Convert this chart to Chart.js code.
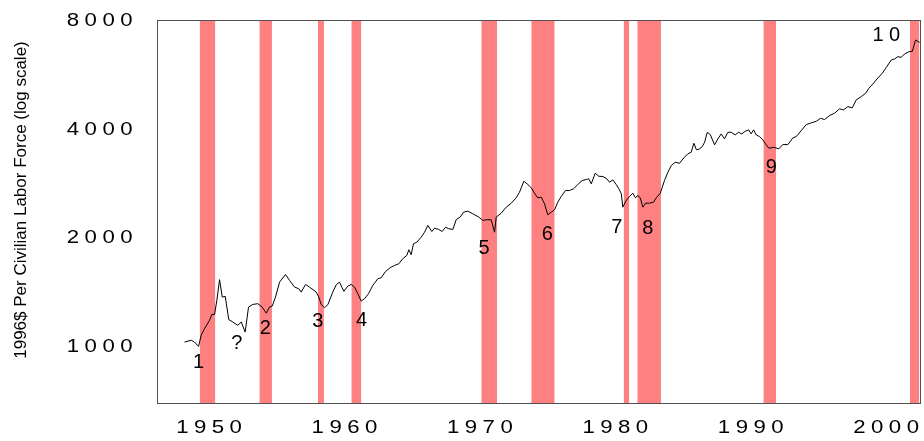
<!DOCTYPE html>
<html><head><meta charset="utf-8">
<script src="https://cdn.jsdelivr.net/npm/chart.js@4/dist/chart.umd.min.js"></script>
<style>html,body{margin:0;padding:0;background:#fff;}canvas{display:block;}</style>
</head><body>
<canvas id="c" width="924" height="441"></canvas>
<script>
const years = [
1948.13,1948.63,1948.87,1949.17,1949.36,1949.61,1949.98,1950.15,1950.35,1950.52,
1950.72,1950.92,1951.14,1951.40,1951.70,1952.07,1952.32,1952.61,1952.86,1953.18,
1953.55,1953.87,1954.17,1954.41,1954.61,1954.85,1955.15,1955.59,1955.89,1956.26,
1956.57,1956.75,1957.07,1957.36,1957.86,1958.05,1958.23,1958.47,1958.72,1959.08,
1959.34,1959.58,1959.75,1959.90,1960.19,1960.44,1960.69,1960.93,1961.18,1961.43,
1961.72,1962.04,1962.41,1962.66,1962.98,1963.32,1963.64,1963.96,1964.25,1964.55,
1964.70,1964.87,1965.04,1965.29,1965.61,1965.86,1966.10,1966.40,1966.60,1966.91,
1967.16,1967.41,1967.65,1967.95,1968.20,1968.49,1968.74,1969.05,1969.42,1969.87,
1970.16,1970.41,1970.78,1971.03,1971.15,1971.52,1971.89,1972.26,1972.63,1972.87,
1973.19,1973.49,1973.74,1973.98,1974.22,1974.48,1974.72,1974.96,1975.21,1975.46,
1975.70,1975.95,1976.27,1976.57,1976.86,1977.18,1977.50,1977.80,1977.99,1978.17,
1978.46,1978.73,1979.03,1979.32,1979.52,1979.76,1980.01,1980.21,1980.39,1980.50,
1980.75,1981.00,1981.24,1981.44,1981.61,1981.79,1981.98,1982.18,1982.47,1982.77,
1982.97,1983.27,1983.58,1983.83,1984.08,1984.37,1984.69,1985.01,1985.30,1985.55,
1985.75,1985.94,1986.17,1986.37,1986.54,1986.74,1986.96,1987.28,1987.52,1987.77,
1988.01,1988.26,1988.51,1988.80,1989.05,1989.29,1989.54,1989.79,1989.98,1990.16,
1990.35,1990.60,1990.84,1991.04,1991.29,1991.66,1992.02,1992.32,1992.69,1993.06,
1993.31,1993.68,1994.05,1994.42,1994.79,1995.10,1995.40,1995.77,1996.13,1996.50,
1996.80,1997.12,1997.44,1997.74,1998.11,1998.43,1998.67,1998.97,1999.34,1999.66,
1999.96,2000.33,2000.57,2000.81,2001.06,2001.31,2001.63,2001.88,2002.12,2002.29,
2002.42];
const values = [
1032,1044,1032,1004,1077,1124,1185,1231,1231,1346,
1536,1375,1381,1191,1173,1148,1173,1100,1290,1312,
1318,1290,1241,1290,1298,1375,1512,1588,1529,1465,
1450,1419,1490,1465,1419,1375,1310,1285,1310,1419,
1488,1512,1465,1426,1474,1490,1465,1405,1340,1361,
1405,1481,1546,1555,1619,1658,1682,1700,1755,1793,
1859,1801,1931,1951,2014,2079,2170,2088,2133,2115,
2088,2146,2125,2115,2254,2288,2362,2377,2338,2288,
2240,2250,2250,2079,2288,2347,2438,2501,2588,2682,
2876,2817,2758,2665,2588,2598,2491,2323,2362,2398,
2517,2610,2711,2711,2741,2817,2889,2908,2921,2829,
3027,2969,2964,2921,2858,2902,2817,2741,2655,2438,
2544,2610,2665,2588,2626,2588,2438,2501,2501,2517,
2588,2665,2889,3046,3179,3246,3225,3338,3424,3460,
3664,3513,3535,3587,3687,3929,3872,3627,3768,3889,
3768,3929,3929,3865,3929,3889,3954,3990,3889,3990,
3865,3823,3744,3650,3549,3571,3535,3633,3633,3792,
3823,3972,4127,4172,4215,4296,4261,4371,4435,4561,
4532,4628,4590,4830,4932,5037,5200,5347,5555,5721,
5943,6229,6269,6362,6333,6472,6567,6580,7075,7012,
6967];
const recStart = [1949.25,1953.66,1957.99,1960.45,1970.05,1973.74,1980.56,1981.57,1990.88,2001.71];
const recEnd   = [1950.41,1954.59,1958.43,1961.19,1971.21,1975.47,1980.98,1983.32,1991.82,2002.40];
const xTicks = [1950,1960,1970,1980,1990,2000];
const yTicks = [1000,2000,4000,8000];
const noteText  = ['1','?','2','3','4','5','6','7','8','9','10'];
const noteYear  = [1949.17,1951.99,1954.09,1957.98,1961.20,1970.25,1974.92,1980.06,1982.35,1991.46,1999.96];
const noteValue = [909,1022,1124,1180,1185,1871,2049,2146,2133,3144,7271];
const yTitle = '1996$ Per Civilian Labor Force (log scale)';
const xMin = 1946.1, xMax = 2002.5, yMin = 700, yMax = 8000;

const FONT = "'Liberation Sans', Arial, Helvetica, sans-serif";
const FRAME = '#505050';
const TICK_STRETCH = 1.2;   // tick digits in the reference are drawn a little wide
const lineData = years.map((x, i) => ({x: x, y: values[i]}));
const recData = [];
recStart.forEach((s, i) => {
  recData.push({x: s, y: yMax}, {x: recEnd[i], y: yMax}, {x: recEnd[i], y: null});
});

const textPlugin = {
  id: 'textStyle',
  beforeDraw(chart) {
    const ctx = chart.ctx;
    const proto = Object.getPrototypeOf(ctx).fillText;
    ctx.fillText = function (t, x, y) {
      this.save();
      this.translate(x, y);
      this.scale(TICK_STRETCH, 1);
      proto.call(this, t, 0, 0);
      this.restore();
    };
    ctx.letterSpacing = '4.55px';
  },
  afterDraw(chart) {
    const ctx = chart.ctx, xs = chart.scales.x, ys = chart.scales.y;
    delete ctx.fillText;
    ctx.letterSpacing = '0px';
    ctx.save();
    ctx.fillStyle = '#000';
    ctx.font = '20px ' + FONT;
    ctx.textBaseline = 'middle';
    ctx.textAlign = 'left';
    const sp = 5.5;
    noteText.forEach((t, i) => {
      ctx.letterSpacing = '0px';
      const w = ctx.measureText(t).width + sp * (t.length - 1);
      ctx.letterSpacing = sp + 'px';
      const px = xs.getPixelForValue(noteYear[i]);
      const py = ys.getPixelForValue(noteValue[i]);
      ctx.fillText(t, px - w / 2, py);
    });
    ctx.letterSpacing = '0px';
    ctx.font = '17px ' + FONT;
    ctx.textAlign = 'center';
    ctx.translate(21, 200);
    ctx.rotate(-Math.PI / 2);
    ctx.fillText(yTitle, 0, 0);
    ctx.restore();
  }
};

function noPad(s) { s.paddingTop = 0; s.paddingBottom = 0; s.paddingLeft = 0; s.paddingRight = 0; }
const tickFont = {family: FONT, size: 18.5};
new Chart(document.getElementById('c'), {
  type: 'line',
  data: {datasets: [
    {label: 'Output per civilian labor force', data: lineData, borderColor: '#000', borderWidth: 1,
     pointRadius: 0, fill: false, tension: 0, order: 0},
    {label: 'Recessions', data: recData, borderWidth: 0, borderColor: 'rgba(0,0,0,0)',
     backgroundColor: '#FF8080', pointRadius: 0, fill: 'start', tension: 0, order: 1}
  ]},
  options: {
    responsive: false, animation: false,
    layout: {padding: {left: 0, top: 20.7, right: 3.3, bottom: 0}},
    plugins: {legend: {display: false}, tooltip: {enabled: false}},
    scales: {
      x: {type: 'linear', position: 'bottom', min: xMin, max: xMax, z: 1,
        afterBuildTicks(s) { s.ticks = xTicks.map(v => ({value: v})); },
        afterFit(s) { s.height = 38; noPad(s); },
        grid: {display: false, drawTicks: false},
        border: {display: true, color: FRAME, width: 1},
        ticks: {color: '#000', font: tickFont, padding: 14, labelOffset: 2, maxRotation: 0,
          autoSkip: false, callback: v => String(v)}},
      y: {type: 'logarithmic', position: 'left', min: yMin, max: yMax, z: 1,
        afterBuildTicks(s) { s.ticks = yTicks.map(v => ({value: v})); },
        afterFit(s) { s.width = 157; noPad(s); },
        grid: {display: false, drawTicks: false},
        border: {display: true, color: FRAME, width: 1},
        ticks: {color: '#000', font: tickFont, padding: 19, autoSkip: false, callback: v => String(v)}},
      x2: {type: 'linear', position: 'top', min: xMin, max: xMax, z: 1,
        afterFit(s) { s.height = 0; noPad(s); },
        grid: {display: false, drawTicks: false}, ticks: {display: false},
        border: {display: true, color: FRAME, width: 1}},
      y2: {type: 'linear', position: 'right', min: 0, max: 1, z: 1,
        afterFit(s) { s.width = 0; noPad(s); },
        grid: {display: false, drawTicks: false}, ticks: {display: false},
        border: {display: true, color: FRAME, width: 1}}
    }
  },
  plugins: [textPlugin]
});
</script>
</body></html>
